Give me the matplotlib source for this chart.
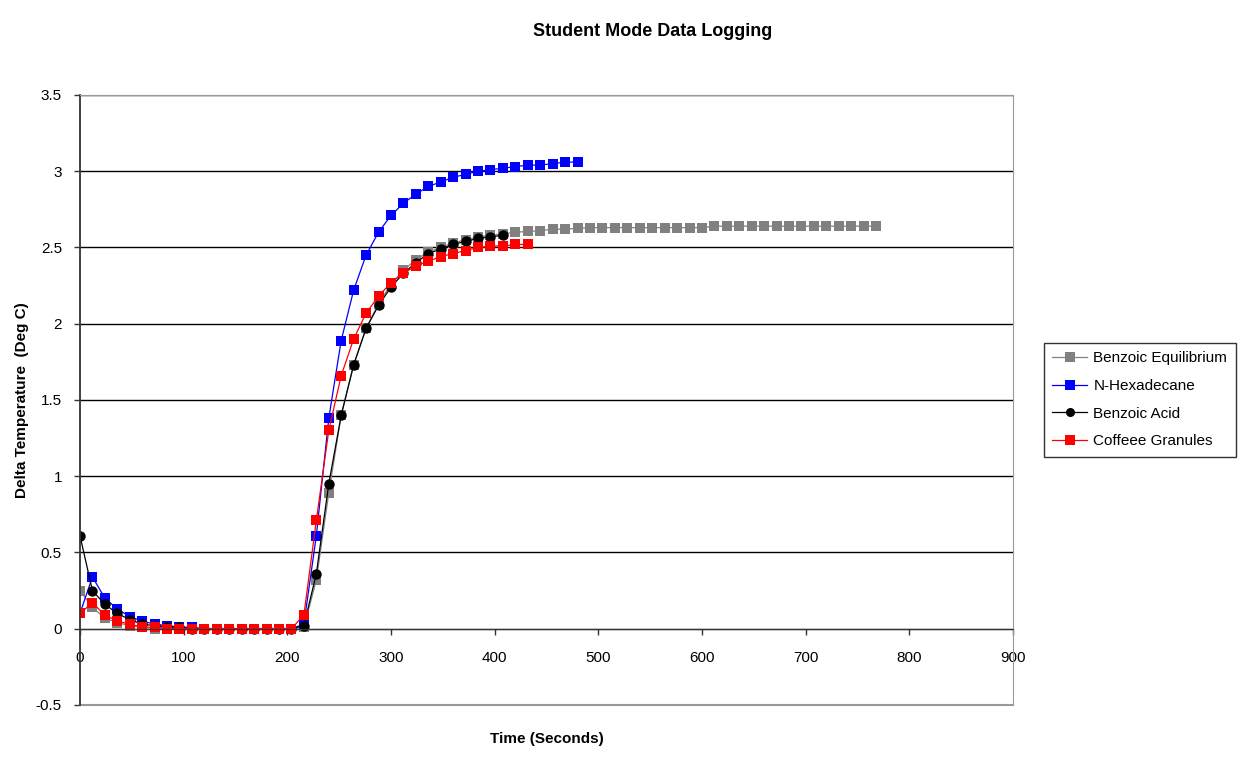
import numpy as np
import matplotlib
matplotlib.use('Agg')
import matplotlib.pyplot as plt

plt.rcParams['font.family'] = ['Liberation Sans', 'DejaVu Sans']

# readings every 12 seconds
step = 12

benzoic_eq = [0.25, 0.14, 0.07, 0.04, 0.02, 0.01,
              0, 0, 0, 0, 0, 0, 0, 0, 0, 0, 0, 0,
              0.01, 0.32, 0.89,
              1.40, 1.73, 1.97, 2.13, 2.26, 2.35, 2.42, 2.47, 2.50, 2.53, 2.55,
              2.57, 2.58, 2.59, 2.60, 2.605, 2.61, 2.62, 2.62, 2.625, 2.63,
              2.63, 2.63, 2.63, 2.63, 2.63, 2.63, 2.63, 2.63, 2.63,
              2.64, 2.64, 2.64, 2.64, 2.64, 2.64, 2.64, 2.64, 2.64, 2.64,
              2.64, 2.64, 2.64, 2.64]

hexadecane = [0.10, 0.34, 0.20, 0.13, 0.08, 0.05, 0.03, 0.02, 0.01, 0.01,
              0, 0, 0, 0, 0, 0, 0, 0,
              0.03, 0.61,
              1.38, 1.89, 2.22, 2.45, 2.60, 2.71, 2.79, 2.85, 2.90, 2.93, 2.96,
              2.98, 3.00, 3.01, 3.02, 3.03, 3.04, 3.04, 3.05, 3.06, 3.06]

benzoic_acid = [0.61, 0.25, 0.16, 0.10, 0.06, 0.03, 0.02, 0.01, 0.01,
                0, 0, 0, 0, 0, 0, 0, 0, 0,
                0.02, 0.36,
                0.95, 1.40, 1.73, 1.97, 2.12, 2.24, 2.33, 2.40, 2.46, 2.49,
                2.52, 2.54, 2.56, 2.57, 2.58]

coffee = [0.10, 0.17, 0.09, 0.05, 0.03, 0.01, 0.01,
          0, 0, 0, 0, 0, 0, 0, 0, 0, 0, 0,
          0.09, 0.71,
          1.30, 1.66, 1.90, 2.07, 2.18, 2.27, 2.33, 2.38, 2.41, 2.44, 2.46,
          2.48, 2.50, 2.51, 2.51, 2.52, 2.52]

series = [
    ('Benzoic Equilibrium', benzoic_eq, '#808080', 's'),
    ('N-Hexadecane', hexadecane, '#0000FF', 's'),
    ('Benzoic Acid', benzoic_acid, '#000000', 'o'),
    ('Coffeee Granules', coffee, '#FF0000', 's'),
]

fig = plt.figure(figsize=(12.38, 7.6), dpi=100)
ax = fig.add_axes([0.0646, 0.0724, 0.7536, 0.8026])

for name, vals, col, mk in series:
    t = np.arange(len(vals)) * step
    ax.plot(t, vals, color=col, lw=0.9, marker=mk,
            markersize=7 if mk == 's' else 7.5, markeredgewidth=0, label=name)

ax.set_xlim(0, 900)
ax.set_ylim(-0.5, 3.5)
ax.set_xticks(np.arange(0, 901, 100))
ax.set_yticks(np.arange(-0.5, 3.51, 0.5))
ax.set_yticklabels(['-0.5', '0', '0.5', '1', '1.5', '2', '2.5', '3', '3.5'])

ax.yaxis.grid(True, color='black', lw=1)
ax.set_axisbelow(True)

ax.spines['bottom'].set_position(('data', 0))
ax.spines['bottom'].set_color('#333333')
ax.spines['left'].set_color('#333333')
ax.spines['left'].set_linewidth(1.3)
for s in ['top', 'right']:
    ax.spines[s].set_color('#999999')
ax.axhline(-0.5, color='#999999', lw=1.5, clip_on=False)

ax.tick_params(axis='both', direction='out', length=4, width=1,
               colors='#333333', labelsize=11, labelcolor='black')
ax.tick_params(axis='x', pad=12)
ax.tick_params(axis='y', pad=9)

fig.text(0.527, 0.958, 'Student Mode Data Logging', ha='center', va='center',
         fontsize=13, fontweight='bold')
ax.set_xlabel('Time (Seconds)', fontsize=11, fontweight='bold')
ax.xaxis.set_label_coords(0.5, -0.045)
ax.set_ylabel('Delta Temperature  (Deg C)', fontsize=11, fontweight='bold')
ax.yaxis.set_label_coords(-0.055, 0.5)

leg = fig.legend(loc='upper left', bbox_to_anchor=(0.843, 0.549),
                 borderaxespad=0, fontsize=11, frameon=True, fancybox=False,
                 edgecolor='black', handlelength=2.3, borderpad=0.55,
                 labelspacing=0.9, handletextpad=0.4)
leg.get_frame().set_linewidth(1)
for h in leg.legend_handles:
    h.set_markersize(6.5)

fig.savefig('out.png', dpi=100)
